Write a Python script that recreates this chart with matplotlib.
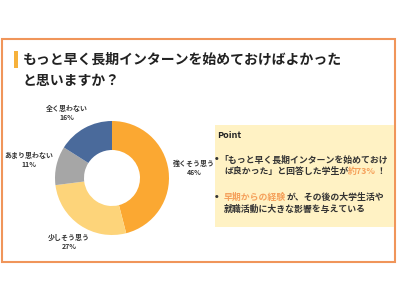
import matplotlib
matplotlib.use("Agg")
import matplotlib.pyplot as plt
from matplotlib.patches import Rectangle

plt.rcParams['font.family'] = ['Noto Sans CJK JP', 'DejaVu Sans']

categories = ["強くそう思う", "少しそう思う", "あまり思わない", "全く思わない"]
values = [46, 27, 11, 16]
colors = ["#FBA832", "#FDD47A", "#A6A6A6", "#4A6A9B"]

title_lines = ["もっと早く長期インターンを始めておけばよかった", "と思いますか？"]

W, H = 400, 300
fig = plt.figure(figsize=(4, 3), dpi=100)
fig.patch.set_facecolor("white")
renderer = fig.canvas.get_renderer()


def fx(x):
    return x / W


def fy(y):
    return 1 - y / H


def prect(x0, y0, x1, y1, **kw):
    r = Rectangle((fx(x0), fy(y1)), (x1 - x0) / W, (y1 - y0) / H,
                  transform=fig.transFigure, **kw)
    fig.patches.append(r)
    return r


# frame
prect(1.5, 38.5, 394.5, 261.5, facecolor="none", edgecolor="#F0955A", linewidth=1.5)
# title marker
prect(14, 51, 18, 68, facecolor="#F6B13B", edgecolor="none")
# title
fig.text(fx(23), fy(60), title_lines[0], fontsize=10, fontweight="bold",
         color="#222222", ha="left", va="center")
fig.text(fx(23), fy(81), title_lines[1], fontsize=10, fontweight="bold",
         color="#222222", ha="left", va="center")

# donut
cx, cy, R = 112, 178, 57
ax = fig.add_axes([fx(cx - 60), fy(cy + 60), 120 / W, 120 / H])
ax.pie(values, colors=colors, startangle=90, counterclock=False, radius=R,
       wedgeprops=dict(width=29, edgecolor="none"))
ax.set_xlim(-60, 60)
ax.set_ylim(-60, 60)
ax.set_aspect("equal")
ax.axis("off")

label_pos = [(194, 163), (69, 237), (29, 155), (67, 108)]
for cat, v, (lx, ly) in zip(categories, values, label_pos):
    fig.text(fx(lx), fy(ly), cat, fontsize=5, fontweight="bold", color="#333333",
             ha="center", va="center")
    fig.text(fx(lx), fy(ly + 9.5), f"{v}%", fontsize=5, fontweight="bold",
             color="#333333", ha="center", va="center")

# point box
prect(215, 125, 394, 227, facecolor="#FFF2C4", edgecolor="none")
fig.text(fx(217), fy(135), "Point", fontsize=6.5, fontweight="bold",
         color="#222222", ha="left", va="center")

dark = "#333333"
hl = "#F5A05A"
fs = 6.4


def segments(x, y, segs):
    for s, c in segs:
        t = fig.text(fx(x), fy(y), s, fontsize=fs, fontweight="bold",
                     color=c, ha="left", va="center")
        bb = t.get_window_extent(renderer)
        x += bb.width


def bullet(y):
    fig.text(fx(214), fy(y), "•", fontsize=fs, fontweight="bold", color=dark,
             ha="left", va="center", family="DejaVu Sans")


bullet(160)
segments(219, 160, [("「もっと早く長期インターンを始めておけ", dark)])
segments(224, 171.5, [("ば良かった」と回答した学生が", dark), ("約73%", hl), ("！", dark)])
bullet(197.5)
segments(224, 197.5, [("早期からの経験", hl), ("が、その後の大学生活や", dark)])
segments(224, 209, [("就職活動に大きな影響を与えている", dark)])

fig.savefig("out.png", dpi=100, facecolor="white")
